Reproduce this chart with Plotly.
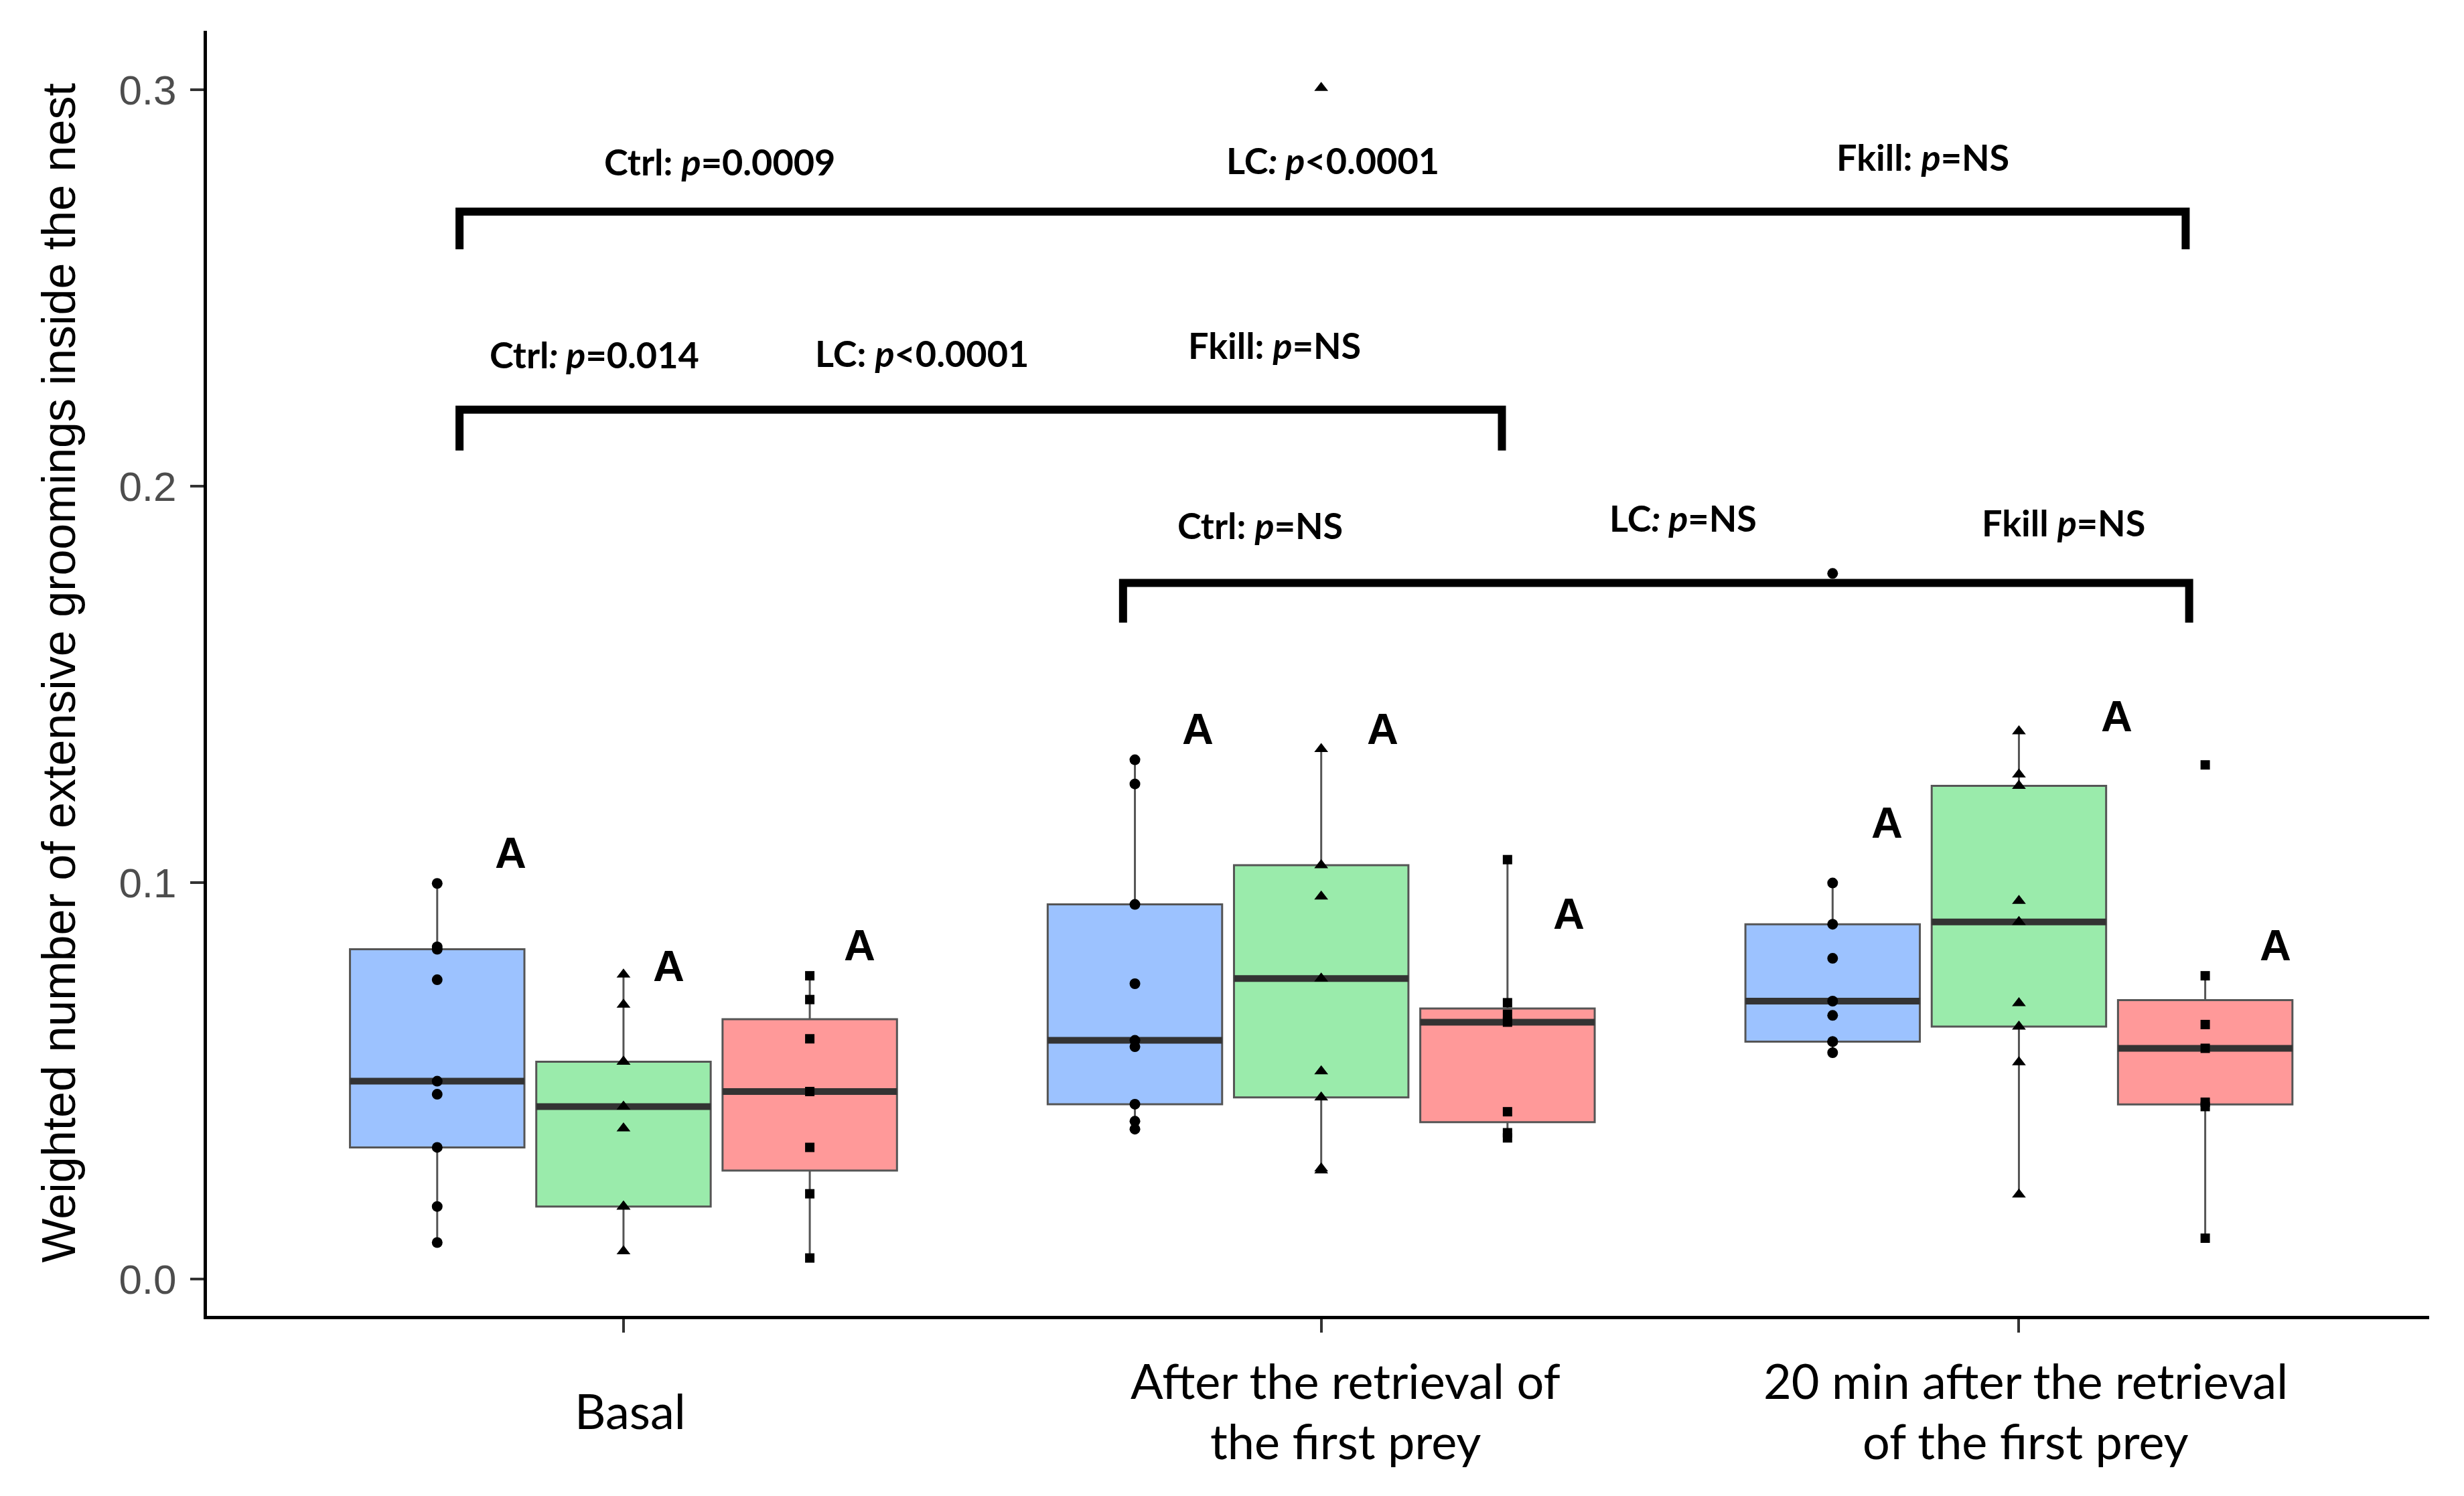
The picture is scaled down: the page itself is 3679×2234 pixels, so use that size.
import numpy as np
import plotly.graph_objects as go

# ---------------- data ----------------
phases = ["Basal", "After the retrieval of<br>the first prey", "20 min after the retrieval<br>of the first prey"]
groups = ["Ctrl", "LC", "Fkill"]

ctrl_basal = [0.0998, 0.0838, 0.0832, 0.0755, 0.0499, 0.0466, 0.0332, 0.0183, 0.0092]
ctrl_after = [0.1310, 0.1249, 0.0945, 0.0745, 0.0602, 0.0586, 0.0441, 0.0398, 0.0378]
ctrl_20min = [0.1780, 0.0999, 0.0895, 0.0809, 0.0701, 0.0665, 0.0599, 0.0599, 0.0571]

lc_basal = [0.0768, 0.0692, 0.0548, 0.0548, 0.0435, 0.0380, 0.0183, 0.0183, 0.0070]
lc_after = [0.3005, 0.1337, 0.1044, 0.0965, 0.0758, 0.0524, 0.0458, 0.0279, 0.0274]
lc_20min = [0.1382, 0.1273, 0.1244, 0.0954, 0.0901, 0.0696, 0.0637, 0.0547, 0.0213]

fkill_basal = [0.0765, 0.0705, 0.0606, 0.0473, 0.0332, 0.0215, 0.0053]
fkill_after = [0.1058, 0.0697, 0.0668, 0.0648, 0.0422, 0.0369, 0.0356]
fkill_20min = [0.1297, 0.0765, 0.0642, 0.0582, 0.0446, 0.0435, 0.0103]

series = {
    "Ctrl": [ctrl_basal, ctrl_after, ctrl_20min],
    "LC": [lc_basal, lc_after, lc_20min],
    "Fkill": [fkill_basal, fkill_after, fkill_20min],
}

y_ticks = [0.0, 0.1, 0.2, 0.3]
y_ticktext = ["0.0", "0.1", "0.2", "0.3"]

# significance brackets: (x_left, x_right, y_bar, y_tip)
brackets = [
    (0.765, 3.239, 0.2693, 0.2598),
    (0.765, 2.259, 0.2193, 0.2090),
    (1.716, 3.244, 0.1756, 0.1656),
]
# bracket labels: (x, y, text)
stat_labels = [
    (1.138, 0.2818, "Ctrl: <i>p</i>=0.0009"),
    (2.017, 0.2822, "LC<i>: p</i>&lt;0.0001"),
    (2.862, 0.2830, "Fkill: <i>p</i>=NS"),
    (0.958, 0.2332, "Ctrl<i>: p</i>=0.014"),
    (1.428, 0.2336, "LC: <i>p</i>&lt;0.0001"),
    (1.933, 0.2356, "Fkill: <i>p</i>=NS"),
    (1.912, 0.1902, "Ctrl: <i>p</i>=NS"),
    (2.519, 0.1920, "LC<i>: p</i>=NS"),
    (3.064, 0.1908, "Fkill <i>p</i>=NS"),
]
# letters above boxes: (x, y)
letter_pos = [
    (0.838, 0.1075), (1.065, 0.0790), (1.338, 0.0842),
    (1.823, 0.1388), (2.088, 0.1388), (2.355, 0.0922),
    (2.811, 0.1151), (3.140, 0.1420), (3.368, 0.0842),
]
letter_text = ["A"] * 9

# ---------------- styling ----------------
phase_pos = [1, 2, 3]
offsets = {"Ctrl": -0.267, "LC": 0.0, "Fkill": 0.267}
box_w = 0.25
fills = {"Ctrl": "#9CC2FF", "LC": "#9AEBAB", "Fkill": "#FF9999"}
symbols = {"Ctrl": "circle", "LC": "triangle-up", "Fkill": "square"}
msize = {"Ctrl": 16, "LC": 18, "Fkill": 14}

# page geometry (the page body adds an 8 px offset)
W, H = 3671, 2226
ML, MR, MT, MB = 301, 52, 38, 269
plot_top, plot_bot = MT + 8, H + 8 - MB   # page pixels
plot_h = plot_bot - plot_top

fig = go.Figure()


def stats(v):
    a = np.sort(np.asarray(v, dtype=float))
    q1, med, q3 = np.percentile(a, [25, 50, 75])
    iqr = q3 - q1
    lo = a[a >= q1 - 1.5 * iqr].min()
    hi = a[a <= q3 + 1.5 * iqr].max()
    return q1, med, q3, lo, hi


for g in groups:
    xs, q1s, meds, q3s, los, his = [], [], [], [], [], []
    for p, vals in zip(phase_pos, series[g]):
        q1, med, q3, lo, hi = stats(vals)
        xs.append(p + offsets[g]); q1s.append(q1); meds.append(med)
        q3s.append(q3); los.append(lo); his.append(hi)
    fig.add_trace(go.Box(
        x=xs, q1=q1s, median=meds, q3=q3s, lowerfence=los, upperfence=his,
        width=box_w, fillcolor=fills[g], line=dict(color="#555555", width=3),
        whiskerwidth=0, boxpoints=False, name=g, hoverinfo="skip"))

for g in groups:
    mx, my = [], []
    for p, vals in zip(phase_pos, series[g]):
        med = float(np.median(vals))
        c = p + offsets[g]
        mx += [c - box_w / 2, c + box_w / 2, None]
        my += [med, med, None]
    fig.add_trace(go.Scatter(x=mx, y=my, mode="lines",
                             line=dict(color="#333333", width=10), hoverinfo="skip"))

for g in groups:
    for p, vals in zip(phase_pos, series[g]):
        fig.add_trace(go.Scatter(
            x=[p + offsets[g]] * len(vals), y=vals, mode="markers",
            marker=dict(symbol=symbols[g], size=msize[g], color="black", line=dict(width=0)),
            hoverinfo="skip"))

for (x0, x1, yb, yt) in brackets:
    fig.add_shape(type="path", xref="x", yref="y",
                  path=f"M {x0} {yt} L {x0} {yb} L {x1} {yb} L {x1} {yt}",
                  line=dict(color="black", width=12))

for (x, y, t) in stat_labels:
    fig.add_annotation(x=x, y=y, xref="x", yref="y", text=f"<b>{t}</b>", showarrow=False,
                       xanchor="center", yanchor="middle",
                       font=dict(family="Lato", size=54, color="black"))

for (x, y), t in zip(letter_pos, letter_text):
    fig.add_annotation(x=x, y=y, xref="x", yref="y", text=f"<b>{t}</b>", showarrow=False,
                       xanchor="center", yanchor="middle",
                       font=dict(family="Liberation Sans", size=65, color="black"))

# category labels (one annotation per line so spacing matches)
label_x = [1.01, 2.035, 3.01]
line_gap = 90
for x, t in zip(label_x, phases):
    lines = t.split("<br>")
    n = len(lines)
    center = 2106
    for i, ln in enumerate(lines):
        py = center + (i - (n - 1) / 2) * line_gap
        fig.add_annotation(x=x, y=(plot_bot - py) / plot_h, xref="x", yref="paper",
                           text=ln, showarrow=False, xanchor="center", yanchor="middle",
                           font=dict(family="Lato", size=72, color="black"))

fig.add_annotation(x=(87 - (ML + 8)) / (W + 8 - MR - (ML + 8)), y=0.5, xref="paper", yref="paper",
                   text="Weighted number of extensive groomings inside the nest",
                   textangle=-90, showarrow=False, xanchor="center", yanchor="middle",
                   font=dict(family="Liberation Sans", size=70, color="black"))

fig.update_layout(width=W, height=H, margin=dict(l=ML, r=MR, t=MT, b=MB),
                  plot_bgcolor="white", paper_bgcolor="white", showlegend=False)
fig.update_xaxes(range=[0.403, 3.588], tickvals=phase_pos, showticklabels=False,
                 ticks="outside", ticklen=20, tickwidth=4, tickcolor="#333333",
                 showline=True, linecolor="black", linewidth=5,
                 showgrid=False, zeroline=False)
fig.update_yaxes(range=[-0.0093, 0.3149], tickvals=y_ticks, ticktext=y_ticktext,
                 ticks="outside", ticklen=20, tickwidth=4, tickcolor="#333333",
                 showline=True, linecolor="black", linewidth=5,
                 showgrid=False, zeroline=False, ticklabelstandoff=8,
                 tickfont=dict(family="Liberation Sans", size=62, color="#4d4d4d"))

fig.write_html("out.html")
